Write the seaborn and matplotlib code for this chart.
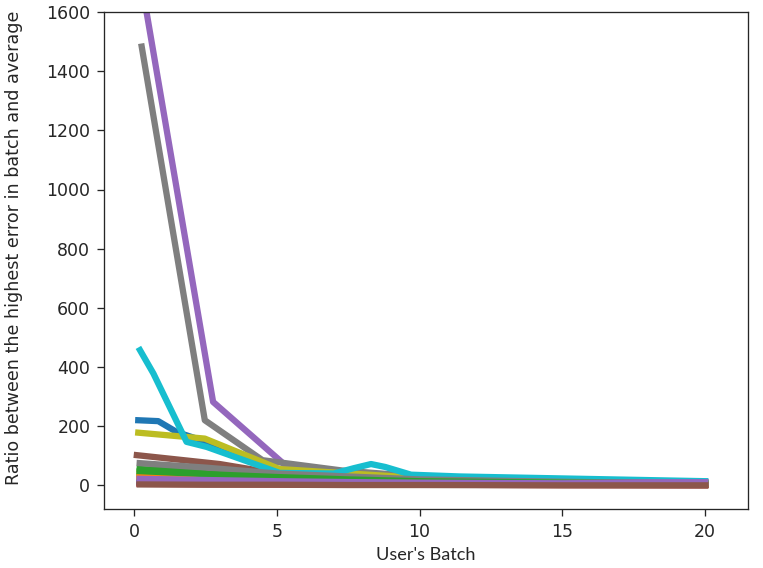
import numpy as np
import pandas as pd
import seaborn as sns
import matplotlib.pyplot as plt

# big series (each has its own batch positions)
blue_x = [0.15, 0.85, 1.5, 2.5, 5.0, 10.0, 20.0]
blue_y = [220, 217, 180, 148, 45, 20, 12]
purple_x = [0.28, 2.77, 5.69, 10.0, 20.0]
purple_y = [1690, 282, 35, 25, 9]
brown_x = [0.1, 3.0, 5.0, 10.0, 20.0]
brown_y = [102, 72, 40, 15, 2]
gray_x = [0.27, 2.48, 4.5, 7.3, 10.0, 20.0]
gray_y = [1483, 220, 85, 50, 30, 8]
olive_x = [0.15, 2.48, 5.1, 10.0, 20.0]
olive_y = [178, 158, 55, 25, 10]
cyan_x = [0.21, 0.68, 1.84, 2.54, 5.1, 7.0, 7.7, 8.3, 8.8, 9.7, 11.4, 20.0]
cyan_y = [457, 378, 147, 130, 42, 40, 58, 72, 62, 36, 30, 14]

# small series on a common grid
small_x = [0.2, 2.5, 5.0, 7.5, 10.0, 15.0, 20.0]
orange_y = [30, 24, 16, 12, 8, 5, 3]
green_y = [55, 46, 30, 22, 15, 9, 5]
red_y = [20, 16, 11, 8, 5, 3, 2]
pink_y = [36, 28, 22, 16, 10, 6, 4]
small_y = [
    [12, 10, 8, 6, 5, 4, 3],
    [25, 20, 14, 10, 7, 5, 3],
    [45, 36, 25, 18, 12, 7, 4],
    [8, 7, 5, 4, 3, 2, 1],
    [24, 20, 16, 14, 12, 11, 10],
    [6, 5, 4, 3, 2, 1, 0],
    [18, 15, 12, 10, 8, 6, 5],
    [75, 60, 40, 30, 20, 12, 6],
    [40, 32, 24, 18, 12, 8, 5],
    [15, 13, 11, 10, 9, 8, 7],
    [10, 8, 6, 5, 4, 3, 2],
    [28, 22, 16, 12, 9, 6, 4],
    [48, 38, 28, 20, 14, 9, 6],
    [5, 4, 3, 2, 2, 1, 1],
    [22, 18, 14, 11, 9, 7, 10],
    [3, 2, 2, 1, 1, 0, 0],
]

sns.set_style("ticks")
plt.rcParams["font.family"] = "DejaVu Sans"
plt.rcParams["xtick.major.size"] = 4.3
plt.rcParams["ytick.major.size"] = 4.3
plt.rcParams["xtick.major.pad"] = 4
plt.rcParams["ytick.major.pad"] = 4
plt.rcParams["xtick.labelsize"] = 10.5
plt.rcParams["ytick.labelsize"] = 10.5

fig = plt.figure(figsize=(763 / 119, 568 / 119), dpi=119)
ax = fig.add_axes([104 / 763, 1 - 509 / 568, 644 / 763, 497 / 568])
ax.set_prop_cycle(color=sns.color_palette("tab10"))

series = [
    (blue_x, blue_y), (small_x, orange_y), (small_x, green_y), (small_x, red_y),
    (purple_x, purple_y), (brown_x, brown_y), (small_x, pink_y), (gray_x, gray_y),
    (olive_x, olive_y), (cyan_x, cyan_y),
] + [(small_x, y) for y in small_y]

for xs, ys in series:
    sns.lineplot(x=xs, y=ys, ax=ax, linewidth=3.8, solid_capstyle="projecting")

ax.set_xlim(-1.05, 21.5)
ax.set_ylim(-80, 1600)
ax.set_xticks([0, 5, 10, 15, 20])
ax.set_yticks(range(0, 1601, 200))
ax.set_xlabel("User's Batch", family="Lato", fontsize=11, labelpad=4)
ax.set_ylabel("Ratio between the highest error in batch and average", fontsize=10.6)
ax.yaxis.set_label_coords(-0.125, 0.525)

fig.savefig("out.png", dpi=119)
